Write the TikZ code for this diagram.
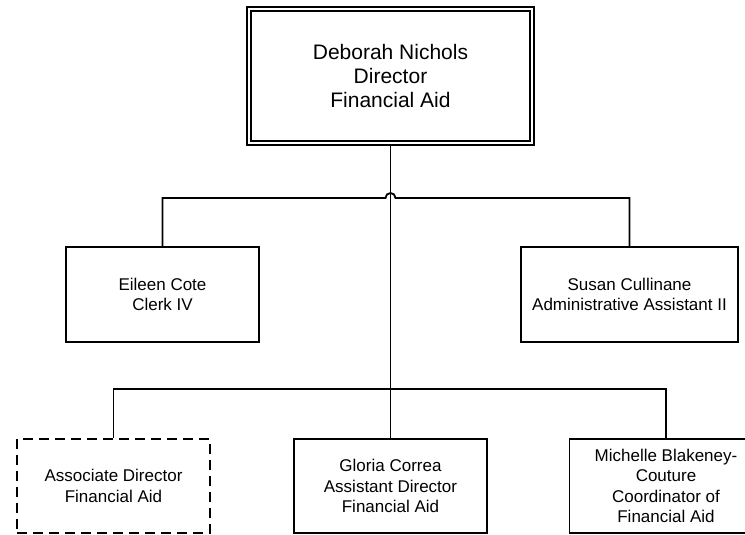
\documentclass[tikz,border=0pt]{standalone}
\usepackage{fontspec}
\setmainfont{Liberation Sans}
\begin{document}
\begin{tikzpicture}[x=1pt,y=-1pt,
  box/.style={draw, line width=1.8pt, align=center, inner sep=0pt,
    font=\fontsize{17}{20.5}\selectfont, minimum height=95pt},
  topbox/.style={draw, double, line width=1.6pt, double distance=2.6pt,
    align=center, inner sep=0pt, minimum width=283pt, minimum height=134pt,
    font=\fontsize{21}{24}\selectfont},
  conn/.style={line width=1.8pt}]
\useasboundingbox (0,0) rectangle (745,535);
\clip (0,0) rectangle (745,535);
\node[topbox] (top) at (390.5,76) {Deborah Nichols\\Director\\Financial Aid};
\node[box, minimum width=193pt] (eileen) at (162.5,294.5) {Eileen Cote\\Clerk IV};
\node[box, minimum width=217pt] (susan) at (629.5,294.5) {Susan Cullinane\\Administrative Assistant II};
\node[box, dashed, dash pattern=on 10pt off 6pt, minimum width=193pt, minimum height=94pt] (assoc) at (113.5,486) {Associate Director\\Financial Aid};
\node[box, minimum width=193pt, minimum height=94pt] (gloria) at (390.5,486) {Gloria Correa\\Assistant Director\\Financial Aid};
\node[box, minimum width=193pt, minimum height=94pt] (michelle) at (666,486) {Michelle Blakeney-\\Couture\\Coordinator of\\Financial Aid};
\coordinate (hopL) at (385.5,198);
\coordinate (bus) at (390.5,389);
\draw[conn] (top.south) -- (gloria.north);
\draw[conn] (eileen.north) |- (hopL) arc[start angle=180, end angle=0, radius=5pt] -| (susan.north);
\draw[conn] (assoc.north) |- (bus) -| (michelle.north);
\end{tikzpicture}
\end{document}
